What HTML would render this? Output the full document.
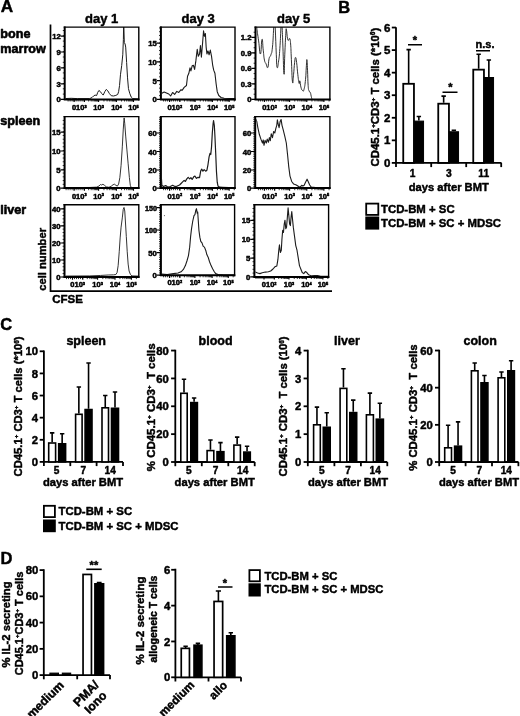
<!DOCTYPE html>
<html lang="en"><head><meta charset="utf-8"><title>Figure</title>
<style>
html,body{margin:0;padding:0;background:#fff;}
svg{display:block;font-family:'Liberation Sans', Arial, Helvetica, sans-serif;font-weight:bold;fill:#000;}
text{stroke:#000;stroke-width:0.45px;stroke-linejoin:round;}
text.s{stroke-width:0.5px;}
text.b{stroke-width:0.6px;}
</style></head>
<body>
<svg width="520" height="716" viewBox="0 0 520 716">
<rect x="0" y="0" width="520" height="716" fill="#fff"/>
<text x="0.8" y="12.3" font-size="16.5" text-anchor="start" textLength="12.4" lengthAdjust="spacingAndGlyphs">A</text>
<text x="0.3" y="37.6" font-size="12.6" text-anchor="start" class="b">bone</text>
<text x="0.3" y="52.8" font-size="12.6" text-anchor="start" class="b">marrow</text>
<text x="0.3" y="125.3" font-size="12.6" text-anchor="start" class="b">spleen</text>
<text x="0.3" y="214.0" font-size="12.6" text-anchor="start" class="b">liver</text>
<text x="101.6" y="23.1" font-size="13" text-anchor="middle">day 1</text>
<text x="198.2" y="23.1" font-size="13" text-anchor="middle">day 3</text>
<text x="293.6" y="23.1" font-size="13" text-anchor="middle">day 5</text>
<path d="M50.5 24.4 V291.1 H332" fill="none" stroke="#000" stroke-width="1.7"/>
<text transform="translate(46,290.8) rotate(-90)" font-size="11.2">cell number</text>
<text x="52.2" y="303.3" font-size="11.5" text-anchor="start">CFSE</text>
<rect x="64.7" y="27.1" width="74.10" height="72.30" fill="#fff"/>
<clipPath id="c65_27"><rect x="65.7" y="27.1" width="73.10" height="72.30"/></clipPath>
<polyline points="63.54,98.62 71.23,98.31 77.38,98.62 89.69,98.62 92.00,97.54 93.54,96.00 95.08,95.08 96.62,95.54 97.69,92.46 98.92,90.46 100.46,91.69 101.69,93.54 103.23,95.08 104.77,91.69 106.31,89.38 107.85,90.92 109.38,93.54 111.23,95.69 113.54,96.00 115.85,95.38 117.69,94.46 118.62,91.69 119.54,85.54 120.46,74.77 121.69,65.54 122.77,54.77 123.38,39.38 123.69,20.92 124.31,42.46 125.08,44.00 125.69,47.08 126.62,62.46 127.54,77.85 128.46,88.62 129.69,93.23 131.23,97.08 132.77,98.62 138.92,98.92" fill="none" stroke="#1c1c1c" stroke-width="1.0" stroke-linejoin="round" clip-path="url(#c65_27)"/>
<path d="M63.70 27.1 H138.8 V100.40" fill="none" stroke="#000" stroke-width="1.4"/>
<path d="M64.70 26.40 V99.40 H139.50" fill="none" stroke="#000" stroke-width="2" stroke-linejoin="miter"/>
<text x="60.7" y="39.1" font-size="7.7" text-anchor="end" class="s">12</text>
<text x="60.7" y="55.0" font-size="7.7" text-anchor="end" class="s">9</text>
<text x="60.7" y="70.9" font-size="7.7" text-anchor="end" class="s">6</text>
<text x="60.7" y="86.9" font-size="7.7" text-anchor="end" class="s">3</text>
<text x="60.7" y="102.4" font-size="7.7" text-anchor="end" class="s">0</text>
<path d="M60.50 36.10H64.70M60.50 52.00H64.70M60.50 67.90H64.70M60.50 83.90H64.70M60.50 99.40H64.70" stroke="#000" stroke-width="1.2" fill="none"/>
<path d="M62.80 99.40H64.70M62.80 94.10H64.70M62.80 88.80H64.70M62.80 83.50H64.70M62.80 78.20H64.70M62.80 72.90H64.70M62.80 67.60H64.70M62.80 62.30H64.70M62.80 57.00H64.70M62.80 51.70H64.70M62.80 46.40H64.70M62.80 41.10H64.70M62.80 35.80H64.70M62.80 30.50H64.70" stroke="#000" stroke-width="0.8" fill="none"/>
<text x="71.9" y="109.8" font-size="7.5" text-anchor="start" class="s">010<tspan dy="-2.2" font-size="3.9">3</tspan><tspan dy="2.2" font-size="1">&#8203;</tspan></text>
<text x="98.6" y="109.8" font-size="7.5" text-anchor="middle" class="s">10<tspan dy="-2.2" font-size="3.9">3</tspan><tspan dy="2.2" font-size="1">&#8203;</tspan></text>
<text x="116.4" y="109.8" font-size="7.5" text-anchor="middle" class="s">10<tspan dy="-2.2" font-size="3.9">4</tspan><tspan dy="2.2" font-size="1">&#8203;</tspan></text>
<text x="133.5" y="109.8" font-size="7.5" text-anchor="middle" class="s">10<tspan dy="-2.2" font-size="3.9">5</tspan><tspan dy="2.2" font-size="1">&#8203;</tspan></text>
<path d="M88.67 99.40V101.50M91.18 99.40V101.50M92.95 99.40V101.50M94.33 99.40V101.50M95.45 99.40V101.50M96.40 99.40V101.50M97.22 99.40V101.50M97.95 99.40V101.50M103.96 99.40V101.50M107.09 99.40V101.50M109.32 99.40V101.50M111.04 99.40V101.50M112.45 99.40V101.50M113.64 99.40V101.50M114.68 99.40V101.50M115.59 99.40V101.50M121.55 99.40V101.50M124.56 99.40V101.50M126.70 99.40V101.50M128.35 99.40V101.50M129.71 99.40V101.50M130.85 99.40V101.50M131.84 99.40V101.50M132.72 99.40V101.50M68.10 99.40V101.50M70.10 99.40V101.50M72.10 99.40V101.50M74.10 99.40V101.50M76.10 99.40V101.50M78.10 99.40V101.50M80.10 99.40V101.50M82.10 99.40V101.50M84.10 99.40V101.50" stroke="#000" stroke-width="0.8" fill="none"/>
<path d="M74.10 99.40V102.10M84.40 99.40V102.10M98.60 99.40V102.10M116.40 99.40V102.10M133.50 99.40V102.10" stroke="#000" stroke-width="1.1" fill="none"/>
<rect x="160.9" y="27.1" width="74.10" height="72.30" fill="#fff"/>
<clipPath id="c161_27"><rect x="161.9" y="27.1" width="73.10" height="72.30"/></clipPath>
<polyline points="160.31,93.54 161.85,93.23 164.15,92.00 166.46,92.92 168.77,94.00 170.62,96.00 172.62,92.46 174.62,94.46 176.77,91.38 178.77,92.46 180.77,89.85 182.31,90.15 184.15,87.38 186.46,85.54 187.54,76.31 188.77,73.54 190.00,67.85 190.92,70.92 192.15,65.85 193.38,65.23 194.62,69.38 195.85,60.92 197.23,49.38 198.31,56.31 199.54,54.00 200.46,45.54 201.38,57.08 202.62,42.46 203.54,30.92 204.46,36.31 205.38,33.54 206.15,47.08 206.92,54.00 208.00,50.92 209.08,54.77 210.31,50.15 211.54,56.31 212.62,64.77 213.69,70.15 214.92,73.23 216.15,84.00 217.23,91.69 218.77,95.54 221.08,97.54 224.15,98.31 234.92,98.62" fill="none" stroke="#1c1c1c" stroke-width="1.1" stroke-linejoin="round" clip-path="url(#c161_27)"/>
<path d="M159.90 27.1 H235.0 V100.40" fill="none" stroke="#000" stroke-width="1.4"/>
<path d="M160.90 26.40 V99.40 H235.70" fill="none" stroke="#000" stroke-width="2" stroke-linejoin="miter"/>
<text x="156.9" y="46.1" font-size="7.7" text-anchor="end" class="s">15</text>
<text x="156.9" y="64.9" font-size="7.7" text-anchor="end" class="s">10</text>
<text x="156.9" y="83.6" font-size="7.7" text-anchor="end" class="s">5</text>
<text x="156.9" y="102.4" font-size="7.7" text-anchor="end" class="s">0</text>
<path d="M156.70 43.10H160.90M156.70 61.90H160.90M156.70 80.60H160.90M156.70 99.40H160.90" stroke="#000" stroke-width="1.2" fill="none"/>
<path d="M159.00 99.40H160.90M159.00 95.64H160.90M159.00 91.88H160.90M159.00 88.12H160.90M159.00 84.36H160.90M159.00 80.60H160.90M159.00 76.84H160.90M159.00 73.08H160.90M159.00 69.32H160.90M159.00 65.56H160.90M159.00 61.80H160.90M159.00 58.04H160.90M159.00 54.28H160.90M159.00 50.52H160.90M159.00 46.76H160.90M159.00 43.00H160.90M159.00 39.24H160.90M159.00 35.48H160.90M159.00 31.72H160.90M159.00 27.96H160.90" stroke="#000" stroke-width="0.8" fill="none"/>
<text x="167.4" y="109.8" font-size="7.5" text-anchor="start" class="s">010<tspan dy="-2.2" font-size="3.9">2</tspan><tspan dy="2.2" font-size="1">&#8203;</tspan></text>
<text x="195.1" y="109.8" font-size="7.5" text-anchor="middle" class="s">10<tspan dy="-2.2" font-size="3.9">3</tspan><tspan dy="2.2" font-size="1">&#8203;</tspan></text>
<text x="212.4" y="109.8" font-size="7.5" text-anchor="middle" class="s">10<tspan dy="-2.2" font-size="3.9">4</tspan><tspan dy="2.2" font-size="1">&#8203;</tspan></text>
<text x="229.2" y="109.8" font-size="7.5" text-anchor="middle" class="s">10<tspan dy="-2.2" font-size="3.9">5</tspan><tspan dy="2.2" font-size="1">&#8203;</tspan></text>
<path d="M184.48 99.40V101.50M187.15 99.40V101.50M189.05 99.40V101.50M190.52 99.40V101.50M191.73 99.40V101.50M192.75 99.40V101.50M193.63 99.40V101.50M194.40 99.40V101.50M200.31 99.40V101.50M203.35 99.40V101.50M205.52 99.40V101.50M207.19 99.40V101.50M208.56 99.40V101.50M209.72 99.40V101.50M210.72 99.40V101.50M211.61 99.40V101.50M217.46 99.40V101.50M220.42 99.40V101.50M222.51 99.40V101.50M224.14 99.40V101.50M225.47 99.40V101.50M226.60 99.40V101.50M227.57 99.40V101.50M228.43 99.40V101.50M234.26 99.40V101.50M163.60 99.40V101.50M165.60 99.40V101.50M167.60 99.40V101.50M169.60 99.40V101.50M171.60 99.40V101.50M173.60 99.40V101.50M175.60 99.40V101.50M177.60 99.40V101.50M179.60 99.40V101.50" stroke="#000" stroke-width="0.8" fill="none"/>
<path d="M169.60 99.40V102.10M179.90 99.40V102.10M195.10 99.40V102.10M212.40 99.40V102.10M229.20 99.40V102.10" stroke="#000" stroke-width="1.1" fill="none"/>
<rect x="255.5" y="27.1" width="74.40" height="72.30" fill="#fff"/>
<clipPath id="c256_27"><rect x="256.5" y="27.1" width="73.40" height="72.30"/></clipPath>
<path d="M256.46 22.46C256.54 23.90 256.19 22.92 256.77 27.85C257.34 32.77 257.63 33.95 258.62 40.92C259.60 47.90 259.56 54.41 260.46 54.00C261.36 53.59 261.26 40.41 262.00 39.38C262.74 38.36 262.57 44.62 263.23 50.15C263.89 55.69 263.72 56.54 264.46 60.15C265.20 63.76 265.10 61.76 266.00 63.69C266.90 65.62 267.03 68.74 267.85 67.38C268.67 66.03 268.26 61.98 269.08 58.62C269.90 55.25 270.02 57.85 270.92 54.77C271.83 51.69 271.72 54.26 272.46 47.08C273.20 39.90 273.16 36.46 273.69 27.85C274.23 19.23 274.05 14.77 274.46 14.77C274.87 14.77 274.74 17.18 275.23 27.85C275.72 38.51 275.82 44.23 276.31 54.77C276.80 65.31 276.46 65.74 277.08 67.38C277.69 69.03 277.88 65.93 278.62 60.92C279.35 55.92 279.23 57.44 279.85 48.62C280.46 39.79 280.47 36.87 280.92 27.85C281.37 18.82 281.21 14.77 281.54 14.77C281.87 14.77 281.78 19.23 282.15 27.85C282.52 36.46 282.43 34.77 282.92 47.08C283.42 59.38 283.51 71.95 284.00 74.00C284.49 76.05 284.28 65.64 284.77 54.77C285.26 43.90 285.39 39.79 285.85 33.23C286.30 26.67 286.01 28.72 286.46 30.15C286.91 31.59 286.96 35.95 287.54 38.62C288.11 41.28 288.04 40.15 288.62 40.15C289.19 40.15 289.16 37.59 289.69 38.62C290.23 39.64 290.16 38.46 290.62 44.00C291.07 49.54 290.89 49.33 291.38 59.38C291.88 69.44 291.89 77.59 292.46 81.69C293.04 85.79 292.96 79.90 293.54 74.77C294.11 69.64 294.08 67.06 294.62 62.46C295.15 57.87 295.01 57.54 295.54 57.54C296.07 57.54 296.00 57.87 296.62 62.46C297.23 67.06 297.19 69.23 297.85 74.77C298.50 80.31 298.54 81.59 299.08 83.23C299.61 84.87 299.35 79.90 299.85 80.92C300.34 81.95 300.23 84.53 300.92 87.08C301.62 89.62 301.64 89.85 302.46 90.46C303.28 91.08 303.18 92.34 304.00 89.38C304.82 86.43 304.92 85.33 305.54 79.38C306.15 73.44 305.94 72.33 306.31 67.08C306.68 61.83 306.59 58.87 306.92 59.69C307.25 60.51 307.21 63.26 307.54 70.15C307.87 77.05 307.74 80.00 308.15 85.54C308.56 91.08 308.50 89.08 309.08 90.92C309.65 92.77 309.73 91.03 310.31 92.46C310.88 93.90 310.74 94.26 311.23 96.31C311.72 98.36 311.91 99.13 312.15 100.15" fill="none" stroke="#1c1c1c" stroke-width="0.9" stroke-linejoin="round" clip-path="url(#c256_27)"/>
<path d="M254.50 27.1 H329.9 V100.40" fill="none" stroke="#000" stroke-width="1.4"/>
<path d="M255.50 26.40 V99.40 H330.60" fill="none" stroke="#000" stroke-width="2" stroke-linejoin="miter"/>
<text x="251.5" y="40.4" font-size="7.7" text-anchor="end" class="s">1.2</text>
<text x="251.5" y="55.9" font-size="7.7" text-anchor="end" class="s">0.9</text>
<text x="251.5" y="71.4" font-size="7.7" text-anchor="end" class="s">0.6</text>
<text x="251.5" y="86.9" font-size="7.7" text-anchor="end" class="s">0.3</text>
<text x="251.5" y="102.4" font-size="7.7" text-anchor="end" class="s">0</text>
<path d="M251.30 37.40H255.50M251.30 52.90H255.50M251.30 68.40H255.50M251.30 83.90H255.50M251.30 99.40H255.50" stroke="#000" stroke-width="1.2" fill="none"/>
<path d="M253.60 99.40H255.50M253.60 94.23H255.50M253.60 89.07H255.50M253.60 83.90H255.50M253.60 78.73H255.50M253.60 73.57H255.50M253.60 68.40H255.50M253.60 63.23H255.50M253.60 58.07H255.50M253.60 52.90H255.50M253.60 47.73H255.50M253.60 42.57H255.50M253.60 37.40H255.50M253.60 32.23H255.50" stroke="#000" stroke-width="0.8" fill="none"/>
<text x="262.2" y="109.8" font-size="7.5" text-anchor="start" class="s">010<tspan dy="-2.2" font-size="3.9">2</tspan><tspan dy="2.2" font-size="1">&#8203;</tspan></text>
<text x="289.6" y="109.8" font-size="7.5" text-anchor="middle" class="s">10<tspan dy="-2.2" font-size="3.9">3</tspan><tspan dy="2.2" font-size="1">&#8203;</tspan></text>
<text x="306.8" y="109.8" font-size="7.5" text-anchor="middle" class="s">10<tspan dy="-2.2" font-size="3.9">4</tspan><tspan dy="2.2" font-size="1">&#8203;</tspan></text>
<text x="323.9" y="109.8" font-size="7.5" text-anchor="middle" class="s">10<tspan dy="-2.2" font-size="3.9">5</tspan><tspan dy="2.2" font-size="1">&#8203;</tspan></text>
<path d="M279.19 99.40V101.50M281.81 99.40V101.50M283.67 99.40V101.50M285.11 99.40V101.50M286.29 99.40V101.50M287.29 99.40V101.50M288.16 99.40V101.50M288.92 99.40V101.50M294.78 99.40V101.50M297.81 99.40V101.50M299.96 99.40V101.50M301.62 99.40V101.50M302.98 99.40V101.50M304.14 99.40V101.50M305.13 99.40V101.50M306.01 99.40V101.50M311.95 99.40V101.50M314.96 99.40V101.50M317.10 99.40V101.50M318.75 99.40V101.50M320.11 99.40V101.50M321.25 99.40V101.50M322.24 99.40V101.50M323.12 99.40V101.50M329.05 99.40V101.50M258.40 99.40V101.50M260.40 99.40V101.50M262.40 99.40V101.50M264.40 99.40V101.50M266.40 99.40V101.50M268.40 99.40V101.50M270.40 99.40V101.50M272.40 99.40V101.50M274.40 99.40V101.50" stroke="#000" stroke-width="0.8" fill="none"/>
<path d="M264.40 99.40V102.10M274.70 99.40V102.10M289.60 99.40V102.10M306.80 99.40V102.10M323.90 99.40V102.10" stroke="#000" stroke-width="1.1" fill="none"/>
<rect x="64.6" y="116.6" width="74.20" height="71.50" fill="#fff"/>
<clipPath id="c65_116"><rect x="65.6" y="116.6" width="73.20" height="71.50"/></clipPath>
<polyline points="63.54,187.62 89.69,187.46 96.62,187.15 98.92,186.08 100.46,184.54 101.69,185.00 102.92,184.23 104.46,185.31 106.31,186.85 108.92,187.31 111.23,186.23 113.08,184.69 114.62,184.23 115.85,185.31 117.38,186.08 118.62,184.08 119.85,177.62 121.08,165.31 122.31,146.85 123.23,129.92 123.85,120.69 124.15,117.92 124.77,123.77 125.69,136.08 126.92,149.92 128.15,163.77 129.38,177.62 130.31,185.31 131.23,187.62 138.92,187.92" fill="none" stroke="#1c1c1c" stroke-width="0.9" stroke-linejoin="round" clip-path="url(#c65_116)"/>
<path d="M63.60 116.6 H138.8 V189.10" fill="none" stroke="#000" stroke-width="1.4"/>
<path d="M64.60 115.90 V188.10 H139.50" fill="none" stroke="#000" stroke-width="2" stroke-linejoin="miter"/>
<text x="60.6" y="135.2" font-size="7.7" text-anchor="end" class="s">15</text>
<text x="60.6" y="154.0" font-size="7.7" text-anchor="end" class="s">10</text>
<text x="60.6" y="172.8" font-size="7.7" text-anchor="end" class="s">5</text>
<text x="60.6" y="191.1" font-size="7.7" text-anchor="end" class="s">0</text>
<path d="M60.40 132.20H64.60M60.40 151.00H64.60M60.40 169.80H64.60M60.40 188.10H64.60" stroke="#000" stroke-width="1.2" fill="none"/>
<path d="M62.70 188.10H64.60M62.70 184.34H64.60M62.70 180.58H64.60M62.70 176.82H64.60M62.70 173.06H64.60M62.70 169.30H64.60M62.70 165.54H64.60M62.70 161.78H64.60M62.70 158.02H64.60M62.70 154.26H64.60M62.70 150.50H64.60M62.70 146.74H64.60M62.70 142.98H64.60M62.70 139.22H64.60M62.70 135.46H64.60M62.70 131.70H64.60M62.70 127.94H64.60M62.70 124.18H64.60M62.70 120.42H64.60" stroke="#000" stroke-width="0.8" fill="none"/>
<text x="71.9" y="198.5" font-size="7.5" text-anchor="start" class="s">010<tspan dy="-2.2" font-size="3.9">3</tspan><tspan dy="2.2" font-size="1">&#8203;</tspan></text>
<text x="98.6" y="198.5" font-size="7.5" text-anchor="middle" class="s">10<tspan dy="-2.2" font-size="3.9">3</tspan><tspan dy="2.2" font-size="1">&#8203;</tspan></text>
<text x="116.4" y="198.5" font-size="7.5" text-anchor="middle" class="s">10<tspan dy="-2.2" font-size="3.9">4</tspan><tspan dy="2.2" font-size="1">&#8203;</tspan></text>
<text x="133.5" y="198.5" font-size="7.5" text-anchor="middle" class="s">10<tspan dy="-2.2" font-size="3.9">5</tspan><tspan dy="2.2" font-size="1">&#8203;</tspan></text>
<path d="M88.67 188.10V190.20M91.18 188.10V190.20M92.95 188.10V190.20M94.33 188.10V190.20M95.45 188.10V190.20M96.40 188.10V190.20M97.22 188.10V190.20M97.95 188.10V190.20M103.96 188.10V190.20M107.09 188.10V190.20M109.32 188.10V190.20M111.04 188.10V190.20M112.45 188.10V190.20M113.64 188.10V190.20M114.68 188.10V190.20M115.59 188.10V190.20M121.55 188.10V190.20M124.56 188.10V190.20M126.70 188.10V190.20M128.35 188.10V190.20M129.71 188.10V190.20M130.85 188.10V190.20M131.84 188.10V190.20M132.72 188.10V190.20M66.10 188.10V190.20M68.10 188.10V190.20M70.10 188.10V190.20M72.10 188.10V190.20M74.10 188.10V190.20M76.10 188.10V190.20M78.10 188.10V190.20M80.10 188.10V190.20M82.10 188.10V190.20M84.10 188.10V190.20" stroke="#000" stroke-width="0.8" fill="none"/>
<path d="M74.10 188.10V190.80M84.40 188.10V190.80M98.60 188.10V190.80M116.40 188.10V190.80M133.50 188.10V190.80" stroke="#000" stroke-width="1.1" fill="none"/>
<rect x="160.9" y="116.6" width="74.10" height="71.50" fill="#fff"/>
<clipPath id="c161_116"><rect x="161.9" y="116.6" width="73.10" height="71.50"/></clipPath>
<polyline points="161.38,177.62 161.85,185.31 163.38,186.54 165.69,185.62 168.00,187.15 170.31,186.54 172.62,185.31 174.92,186.54 177.23,186.08 179.54,185.00 181.08,183.46 182.62,181.92 184.15,180.38 185.38,181.46 186.62,179.15 188.15,177.31 189.69,178.85 190.92,177.62 192.15,179.46 193.69,176.85 194.92,176.08 196.46,178.38 198.00,177.31 199.54,177.62 200.77,170.69 201.69,169.15 202.92,171.15 204.15,169.62 205.69,171.15 206.92,170.23 208.00,164.54 209.08,156.85 210.00,153.31 210.77,154.54 211.54,146.85 212.31,133.00 213.08,123.77 213.54,120.69 214.31,125.31 214.92,136.08 215.69,153.00 216.46,171.46 217.23,182.23 218.00,186.08 219.54,187.15 222.62,187.31 234.92,187.77" fill="none" stroke="#1c1c1c" stroke-width="1.2" stroke-linejoin="round" clip-path="url(#c161_116)"/>
<path d="M159.90 116.6 H235.0 V189.10" fill="none" stroke="#000" stroke-width="1.4"/>
<path d="M160.90 115.90 V188.10 H235.70" fill="none" stroke="#000" stroke-width="2" stroke-linejoin="miter"/>
<text x="156.9" y="136.0" font-size="7.7" text-anchor="end" class="s">60</text>
<text x="156.9" y="154.5" font-size="7.7" text-anchor="end" class="s">40</text>
<text x="156.9" y="173.0" font-size="7.7" text-anchor="end" class="s">20</text>
<text x="156.9" y="191.1" font-size="7.7" text-anchor="end" class="s">0</text>
<path d="M156.70 133.00H160.90M156.70 151.50H160.90M156.70 170.00H160.90M156.70 188.10H160.90" stroke="#000" stroke-width="1.2" fill="none"/>
<path d="M159.00 188.10H160.90M159.00 186.25H160.90M159.00 184.40H160.90M159.00 182.55H160.90M159.00 180.70H160.90M159.00 178.85H160.90M159.00 177.00H160.90M159.00 175.15H160.90M159.00 173.30H160.90M159.00 171.45H160.90M159.00 169.60H160.90M159.00 167.75H160.90M159.00 165.90H160.90M159.00 164.05H160.90M159.00 162.20H160.90M159.00 160.35H160.90M159.00 158.50H160.90M159.00 156.65H160.90M159.00 154.80H160.90M159.00 152.95H160.90M159.00 151.10H160.90M159.00 149.25H160.90M159.00 147.40H160.90M159.00 145.55H160.90M159.00 143.70H160.90M159.00 141.85H160.90M159.00 140.00H160.90M159.00 138.15H160.90M159.00 136.30H160.90M159.00 134.45H160.90M159.00 132.60H160.90M159.00 130.75H160.90M159.00 128.90H160.90M159.00 127.05H160.90M159.00 125.20H160.90M159.00 123.35H160.90M159.00 121.50H160.90M159.00 119.65H160.90M159.00 117.80H160.90" stroke="#000" stroke-width="0.8" fill="none"/>
<text x="167.4" y="198.5" font-size="7.5" text-anchor="start" class="s">010<tspan dy="-2.2" font-size="3.9">2</tspan><tspan dy="2.2" font-size="1">&#8203;</tspan></text>
<text x="195.1" y="198.5" font-size="7.5" text-anchor="middle" class="s">10<tspan dy="-2.2" font-size="3.9">3</tspan><tspan dy="2.2" font-size="1">&#8203;</tspan></text>
<text x="212.4" y="198.5" font-size="7.5" text-anchor="middle" class="s">10<tspan dy="-2.2" font-size="3.9">4</tspan><tspan dy="2.2" font-size="1">&#8203;</tspan></text>
<text x="229.2" y="198.5" font-size="7.5" text-anchor="middle" class="s">10<tspan dy="-2.2" font-size="3.9">5</tspan><tspan dy="2.2" font-size="1">&#8203;</tspan></text>
<path d="M184.48 188.10V190.20M187.15 188.10V190.20M189.05 188.10V190.20M190.52 188.10V190.20M191.73 188.10V190.20M192.75 188.10V190.20M193.63 188.10V190.20M194.40 188.10V190.20M200.31 188.10V190.20M203.35 188.10V190.20M205.52 188.10V190.20M207.19 188.10V190.20M208.56 188.10V190.20M209.72 188.10V190.20M210.72 188.10V190.20M211.61 188.10V190.20M217.46 188.10V190.20M220.42 188.10V190.20M222.51 188.10V190.20M224.14 188.10V190.20M225.47 188.10V190.20M226.60 188.10V190.20M227.57 188.10V190.20M228.43 188.10V190.20M234.26 188.10V190.20M163.60 188.10V190.20M165.60 188.10V190.20M167.60 188.10V190.20M169.60 188.10V190.20M171.60 188.10V190.20M173.60 188.10V190.20M175.60 188.10V190.20M177.60 188.10V190.20M179.60 188.10V190.20" stroke="#000" stroke-width="0.8" fill="none"/>
<path d="M169.60 188.10V190.80M179.90 188.10V190.80M195.10 188.10V190.80M212.40 188.10V190.80M229.20 188.10V190.80" stroke="#000" stroke-width="1.1" fill="none"/>
<rect x="255.2" y="116.6" width="74.70" height="71.50" fill="#fff"/>
<clipPath id="c256_116"><rect x="256.2" y="116.6" width="73.70" height="71.50"/></clipPath>
<polyline points="255.85,119.15 256.77,121.46 257.85,127.62 259.38,134.54 260.92,139.15 262.46,143.00 263.23,139.92 264.00,145.31 265.08,140.38 266.31,143.00 267.23,139.15 268.46,142.23 269.38,137.62 270.31,140.69 271.23,133.77 272.46,137.62 273.69,131.46 274.77,133.00 275.85,128.38 276.77,125.31 277.38,119.92 278.31,124.54 279.08,127.62 280.15,121.46 281.08,119.46 282.00,125.31 283.23,129.92 284.77,136.08 286.31,143.00 287.54,154.54 288.77,166.85 290.00,176.08 291.69,181.46 293.69,184.08 296.31,185.00 298.62,186.54 300.15,187.15 301.69,185.31 302.92,186.08 304.15,185.31 305.54,182.23 307.08,179.15 308.15,181.46 309.69,185.00 311.23,187.15 315.54,187.62 330.92,187.92" fill="none" stroke="#1c1c1c" stroke-width="1.1" stroke-linejoin="round" clip-path="url(#c256_116)"/>
<path d="M254.20 116.6 H329.9 V189.10" fill="none" stroke="#000" stroke-width="1.4"/>
<path d="M255.20 115.90 V188.10 H330.60" fill="none" stroke="#000" stroke-width="2" stroke-linejoin="miter"/>
<text x="251.2" y="136.0" font-size="7.7" text-anchor="end" class="s">60</text>
<text x="251.2" y="154.5" font-size="7.7" text-anchor="end" class="s">40</text>
<text x="251.2" y="173.0" font-size="7.7" text-anchor="end" class="s">20</text>
<text x="251.2" y="191.1" font-size="7.7" text-anchor="end" class="s">0</text>
<path d="M251.00 133.00H255.20M251.00 151.50H255.20M251.00 170.00H255.20M251.00 188.10H255.20" stroke="#000" stroke-width="1.2" fill="none"/>
<path d="M253.30 188.10H255.20M253.30 186.25H255.20M253.30 184.40H255.20M253.30 182.55H255.20M253.30 180.70H255.20M253.30 178.85H255.20M253.30 177.00H255.20M253.30 175.15H255.20M253.30 173.30H255.20M253.30 171.45H255.20M253.30 169.60H255.20M253.30 167.75H255.20M253.30 165.90H255.20M253.30 164.05H255.20M253.30 162.20H255.20M253.30 160.35H255.20M253.30 158.50H255.20M253.30 156.65H255.20M253.30 154.80H255.20M253.30 152.95H255.20M253.30 151.10H255.20M253.30 149.25H255.20M253.30 147.40H255.20M253.30 145.55H255.20M253.30 143.70H255.20M253.30 141.85H255.20M253.30 140.00H255.20M253.30 138.15H255.20M253.30 136.30H255.20M253.30 134.45H255.20M253.30 132.60H255.20M253.30 130.75H255.20M253.30 128.90H255.20M253.30 127.05H255.20M253.30 125.20H255.20M253.30 123.35H255.20M253.30 121.50H255.20M253.30 119.65H255.20M253.30 117.80H255.20" stroke="#000" stroke-width="0.8" fill="none"/>
<text x="262.2" y="198.5" font-size="7.5" text-anchor="start" class="s">010<tspan dy="-2.2" font-size="3.9">2</tspan><tspan dy="2.2" font-size="1">&#8203;</tspan></text>
<text x="289.6" y="198.5" font-size="7.5" text-anchor="middle" class="s">10<tspan dy="-2.2" font-size="3.9">3</tspan><tspan dy="2.2" font-size="1">&#8203;</tspan></text>
<text x="306.8" y="198.5" font-size="7.5" text-anchor="middle" class="s">10<tspan dy="-2.2" font-size="3.9">4</tspan><tspan dy="2.2" font-size="1">&#8203;</tspan></text>
<text x="323.9" y="198.5" font-size="7.5" text-anchor="middle" class="s">10<tspan dy="-2.2" font-size="3.9">5</tspan><tspan dy="2.2" font-size="1">&#8203;</tspan></text>
<path d="M279.19 188.10V190.20M281.81 188.10V190.20M283.67 188.10V190.20M285.11 188.10V190.20M286.29 188.10V190.20M287.29 188.10V190.20M288.16 188.10V190.20M288.92 188.10V190.20M294.78 188.10V190.20M297.81 188.10V190.20M299.96 188.10V190.20M301.62 188.10V190.20M302.98 188.10V190.20M304.14 188.10V190.20M305.13 188.10V190.20M306.01 188.10V190.20M311.95 188.10V190.20M314.96 188.10V190.20M317.10 188.10V190.20M318.75 188.10V190.20M320.11 188.10V190.20M321.25 188.10V190.20M322.24 188.10V190.20M323.12 188.10V190.20M329.05 188.10V190.20M258.40 188.10V190.20M260.40 188.10V190.20M262.40 188.10V190.20M264.40 188.10V190.20M266.40 188.10V190.20M268.40 188.10V190.20M270.40 188.10V190.20M272.40 188.10V190.20M274.40 188.10V190.20" stroke="#000" stroke-width="0.8" fill="none"/>
<path d="M264.40 188.10V190.80M274.70 188.10V190.80M289.60 188.10V190.80M306.80 188.10V190.80M323.90 188.10V190.80" stroke="#000" stroke-width="1.1" fill="none"/>
<rect x="64.5" y="204.8" width="74.30" height="72.20" fill="#fff"/>
<clipPath id="c65_204"><rect x="65.5" y="204.8" width="73.30" height="72.20"/></clipPath>
<polyline points="63.54,276.08 89.69,275.92 100.46,275.46 108.15,275.00 113.54,274.85 115.85,274.54 117.08,272.54 118.15,265.62 119.23,251.77 120.15,237.92 121.08,227.15 122.31,217.92 123.23,209.46 124.00,207.46 124.77,211.00 125.38,221.00 126.31,236.38 127.23,251.77 128.15,264.08 129.08,271.00 130.46,274.54 132.00,275.92 138.92,276.08" fill="none" stroke="#1c1c1c" stroke-width="0.9" stroke-linejoin="round" clip-path="url(#c65_204)"/>
<path d="M63.50 204.8 H138.8 V278.00" fill="none" stroke="#000" stroke-width="1.4"/>
<path d="M64.50 204.10 V277.00 H139.50" fill="none" stroke="#000" stroke-width="2" stroke-linejoin="miter"/>
<text x="60.5" y="211.8" font-size="7.7" text-anchor="end" class="s">40</text>
<text x="60.5" y="228.9" font-size="7.7" text-anchor="end" class="s">30</text>
<text x="60.5" y="246.0" font-size="7.7" text-anchor="end" class="s">20</text>
<text x="60.5" y="263.0" font-size="7.7" text-anchor="end" class="s">10</text>
<text x="60.5" y="280.0" font-size="7.7" text-anchor="end" class="s">0</text>
<path d="M60.30 208.80H64.50M60.30 225.90H64.50M60.30 243.00H64.50M60.30 260.00H64.50M60.30 277.00H64.50" stroke="#000" stroke-width="1.2" fill="none"/>
<path d="M62.60 277.00H64.50M62.60 273.58H64.50M62.60 270.16H64.50M62.60 266.74H64.50M62.60 263.32H64.50M62.60 259.90H64.50M62.60 256.48H64.50M62.60 253.06H64.50M62.60 249.64H64.50M62.60 246.22H64.50M62.60 242.80H64.50M62.60 239.38H64.50M62.60 235.96H64.50M62.60 232.54H64.50M62.60 229.12H64.50M62.60 225.70H64.50M62.60 222.28H64.50M62.60 218.86H64.50M62.60 215.44H64.50M62.60 212.02H64.50M62.60 208.60H64.50" stroke="#000" stroke-width="0.8" fill="none"/>
<text x="70.3" y="287.4" font-size="7.5" text-anchor="start" class="s">010<tspan dy="-2.2" font-size="3.9">3</tspan><tspan dy="2.2" font-size="1">&#8203;</tspan></text>
<text x="97.6" y="287.4" font-size="7.5" text-anchor="middle" class="s">10<tspan dy="-2.2" font-size="3.9">3</tspan><tspan dy="2.2" font-size="1">&#8203;</tspan></text>
<text x="115.0" y="287.4" font-size="7.5" text-anchor="middle" class="s">10<tspan dy="-2.2" font-size="3.9">4</tspan><tspan dy="2.2" font-size="1">&#8203;</tspan></text>
<text x="131.4" y="287.4" font-size="7.5" text-anchor="middle" class="s">10<tspan dy="-2.2" font-size="3.9">5</tspan><tspan dy="2.2" font-size="1">&#8203;</tspan></text>
<path d="M87.26 277.00V279.10M89.86 277.00V279.10M91.71 277.00V279.10M93.14 277.00V279.10M94.32 277.00V279.10M95.31 277.00V279.10M96.17 277.00V279.10M96.92 277.00V279.10M102.84 277.00V279.10M105.90 277.00V279.10M108.08 277.00V279.10M109.76 277.00V279.10M111.14 277.00V279.10M112.30 277.00V279.10M113.31 277.00V279.10M114.20 277.00V279.10M119.94 277.00V279.10M122.82 277.00V279.10M124.87 277.00V279.10M126.46 277.00V279.10M127.76 277.00V279.10M128.86 277.00V279.10M129.81 277.00V279.10M130.65 277.00V279.10M136.34 277.00V279.10M66.50 277.00V279.10M68.50 277.00V279.10M70.50 277.00V279.10M72.50 277.00V279.10M74.50 277.00V279.10M76.50 277.00V279.10M78.50 277.00V279.10M80.50 277.00V279.10M82.50 277.00V279.10" stroke="#000" stroke-width="0.8" fill="none"/>
<path d="M72.50 277.00V279.70M82.80 277.00V279.70M97.60 277.00V279.70M115.00 277.00V279.70M131.40 277.00V279.70" stroke="#000" stroke-width="1.1" fill="none"/>
<rect x="160.9" y="204.8" width="73.70" height="70.40" fill="#fff"/>
<clipPath id="c161_204"><rect x="161.9" y="204.8" width="72.70" height="70.40"/></clipPath>
<polyline points="160.31,274.23 161.85,274.08 167.23,274.54 173.38,273.62 178.00,273.00 181.08,271.77 183.38,269.46 185.38,265.62 186.92,261.00 188.46,255.62 189.69,247.15 190.62,236.38 191.54,228.69 192.77,221.00 194.00,215.62 194.92,214.54 195.85,210.23 196.46,208.69 197.23,213.31 197.69,212.08 198.31,221.00 198.92,230.23 199.85,237.15 200.77,241.31 202.00,242.85 203.23,246.38 204.46,247.15 205.69,250.23 206.92,254.85 208.15,257.15 209.54,261.77 211.08,265.62 212.62,268.69 214.15,271.46 215.69,273.62 218.00,274.54 222.62,274.85 234.92,275.15" fill="none" stroke="#1c1c1c" stroke-width="1.1" stroke-linejoin="round" clip-path="url(#c161_204)"/>
<path d="M159.90 204.8 H234.6 V276.20" fill="none" stroke="#000" stroke-width="1.4"/>
<path d="M160.90 204.10 V275.20 H235.30" fill="none" stroke="#000" stroke-width="2" stroke-linejoin="miter"/>
<text x="156.9" y="210.6" font-size="7.2" text-anchor="end" class="s">150</text>
<text x="156.9" y="233.0" font-size="7.2" text-anchor="end" class="s">100</text>
<text x="156.9" y="255.6" font-size="7.7" text-anchor="end" class="s">50</text>
<text x="156.9" y="278.2" font-size="7.7" text-anchor="end" class="s">0</text>
<path d="M156.70 207.60H160.90M156.70 230.00H160.90M156.70 252.60H160.90M156.70 275.20H160.90" stroke="#000" stroke-width="1.2" fill="none"/>
<path d="M159.00 275.20H160.90M159.00 272.96H160.90M159.00 270.72H160.90M159.00 268.48H160.90M159.00 266.24H160.90M159.00 264.00H160.90M159.00 261.76H160.90M159.00 259.52H160.90M159.00 257.28H160.90M159.00 255.04H160.90M159.00 252.80H160.90M159.00 250.56H160.90M159.00 248.32H160.90M159.00 246.08H160.90M159.00 243.84H160.90M159.00 241.60H160.90M159.00 239.36H160.90M159.00 237.12H160.90M159.00 234.88H160.90M159.00 232.64H160.90M159.00 230.40H160.90M159.00 228.16H160.90M159.00 225.92H160.90M159.00 223.68H160.90M159.00 221.44H160.90M159.00 219.20H160.90M159.00 216.96H160.90M159.00 214.72H160.90M159.00 212.48H160.90M159.00 210.24H160.90M159.00 208.00H160.90M159.00 205.76H160.90" stroke="#000" stroke-width="0.8" fill="none"/>
<text x="167.4" y="285.2" font-size="7.5" text-anchor="start" class="s">010<tspan dy="-2.2" font-size="3.9">2</tspan><tspan dy="2.2" font-size="1">&#8203;</tspan></text>
<text x="194.9" y="285.2" font-size="7.5" text-anchor="middle" class="s">10<tspan dy="-2.2" font-size="3.9">3</tspan><tspan dy="2.2" font-size="1">&#8203;</tspan></text>
<text x="212.1" y="285.2" font-size="7.5" text-anchor="middle" class="s">10<tspan dy="-2.2" font-size="3.9">4</tspan><tspan dy="2.2" font-size="1">&#8203;</tspan></text>
<text x="228.3" y="285.2" font-size="7.5" text-anchor="middle" class="s">10<tspan dy="-2.2" font-size="3.9">5</tspan><tspan dy="2.2" font-size="1">&#8203;</tspan></text>
<path d="M184.42 275.20V277.30M187.06 275.20V277.30M188.93 275.20V277.30M190.38 275.20V277.30M191.57 275.20V277.30M192.58 275.20V277.30M193.45 275.20V277.30M194.21 275.20V277.30M200.08 275.20V277.30M203.11 275.20V277.30M205.26 275.20V277.30M206.92 275.20V277.30M208.28 275.20V277.30M209.44 275.20V277.30M210.43 275.20V277.30M211.31 275.20V277.30M216.98 275.20V277.30M219.83 275.20V277.30M221.85 275.20V277.30M223.42 275.20V277.30M224.71 275.20V277.30M225.79 275.20V277.30M226.73 275.20V277.30M227.56 275.20V277.30M233.18 275.20V277.30M163.60 275.20V277.30M165.60 275.20V277.30M167.60 275.20V277.30M169.60 275.20V277.30M171.60 275.20V277.30M173.60 275.20V277.30M175.60 275.20V277.30M177.60 275.20V277.30M179.60 275.20V277.30" stroke="#000" stroke-width="0.8" fill="none"/>
<path d="M169.60 275.20V277.90M179.90 275.20V277.90M194.90 275.20V277.90M212.10 275.20V277.90M228.30 275.20V277.90" stroke="#000" stroke-width="1.1" fill="none"/>
<rect x="254.4" y="204.8" width="74.20" height="72.10" fill="#fff"/>
<clipPath id="c255_204"><rect x="255.4" y="204.8" width="73.20" height="72.10"/></clipPath>
<polyline points="254.23,271.77 255.31,272.08 257.62,273.00 259.92,273.62 262.23,272.69 265.31,272.08 268.38,271.77 270.69,271.00 273.00,269.00 274.85,266.85 276.85,265.92 277.92,259.46 278.85,249.46 279.46,244.85 280.38,252.54 281.31,250.23 281.92,239.46 282.69,230.23 283.46,232.54 284.23,224.08 285.00,220.23 285.77,228.69 286.54,227.15 287.31,217.92 288.08,207.92 288.85,215.62 289.62,224.08 290.38,225.62 291.15,216.38 291.77,211.46 292.38,217.92 293.31,227.15 294.54,236.38 295.77,245.62 297.00,250.23 298.23,257.92 299.46,265.62 301.00,269.46 302.23,272.54 303.77,273.62 305.31,271.46 306.85,272.54 308.69,274.85 311.46,275.92 314.54,275.62 317.62,275.46 320.69,276.23 329.92,276.23" fill="none" stroke="#1c1c1c" stroke-width="1.1" stroke-linejoin="round" clip-path="url(#c255_204)"/>
<path d="M253.40 204.8 H328.6 V277.90" fill="none" stroke="#000" stroke-width="1.4"/>
<path d="M254.40 204.10 V276.90 H329.30" fill="none" stroke="#000" stroke-width="2" stroke-linejoin="miter"/>
<text x="250.4" y="223.4" font-size="7.7" text-anchor="end" class="s">15</text>
<text x="250.4" y="242.4" font-size="7.7" text-anchor="end" class="s">10</text>
<text x="250.4" y="261.2" font-size="7.7" text-anchor="end" class="s">5</text>
<text x="250.4" y="279.9" font-size="7.7" text-anchor="end" class="s">0</text>
<path d="M250.20 220.40H254.40M250.20 239.40H254.40M250.20 258.20H254.40M250.20 276.90H254.40" stroke="#000" stroke-width="1.2" fill="none"/>
<path d="M252.50 276.90H254.40M252.50 273.10H254.40M252.50 269.30H254.40M252.50 265.50H254.40M252.50 261.70H254.40M252.50 257.90H254.40M252.50 254.10H254.40M252.50 250.30H254.40M252.50 246.50H254.40M252.50 242.70H254.40M252.50 238.90H254.40M252.50 235.10H254.40M252.50 231.30H254.40M252.50 227.50H254.40M252.50 223.70H254.40M252.50 219.90H254.40M252.50 216.10H254.40M252.50 212.30H254.40M252.50 208.50H254.40" stroke="#000" stroke-width="0.8" fill="none"/>
<text x="261.8" y="287.3" font-size="7.5" text-anchor="start" class="s">010<tspan dy="-2.2" font-size="3.9">2</tspan><tspan dy="2.2" font-size="1">&#8203;</tspan></text>
<text x="289.0" y="287.3" font-size="7.5" text-anchor="middle" class="s">10<tspan dy="-2.2" font-size="3.9">3</tspan><tspan dy="2.2" font-size="1">&#8203;</tspan></text>
<text x="306.4" y="287.3" font-size="7.5" text-anchor="middle" class="s">10<tspan dy="-2.2" font-size="3.9">4</tspan><tspan dy="2.2" font-size="1">&#8203;</tspan></text>
<text x="322.9" y="287.3" font-size="7.5" text-anchor="middle" class="s">10<tspan dy="-2.2" font-size="3.9">5</tspan><tspan dy="2.2" font-size="1">&#8203;</tspan></text>
<path d="M278.73 276.90V279.00M281.31 276.90V279.00M283.15 276.90V279.00M284.57 276.90V279.00M285.74 276.90V279.00M286.72 276.90V279.00M287.58 276.90V279.00M288.33 276.90V279.00M294.24 276.90V279.00M297.30 276.90V279.00M299.48 276.90V279.00M301.16 276.90V279.00M302.54 276.90V279.00M303.70 276.90V279.00M304.71 276.90V279.00M305.60 276.90V279.00M311.37 276.90V279.00M314.27 276.90V279.00M316.33 276.90V279.00M317.93 276.90V279.00M319.24 276.90V279.00M320.34 276.90V279.00M321.30 276.90V279.00M322.15 276.90V279.00M327.87 276.90V279.00M256.00 276.90V279.00M258.00 276.90V279.00M260.00 276.90V279.00M262.00 276.90V279.00M264.00 276.90V279.00M266.00 276.90V279.00M268.00 276.90V279.00M270.00 276.90V279.00M272.00 276.90V279.00M274.00 276.90V279.00" stroke="#000" stroke-width="0.8" fill="none"/>
<path d="M264.00 276.90V279.60M274.30 276.90V279.60M289.00 276.90V279.60M306.40 276.90V279.60M322.90 276.90V279.60" stroke="#000" stroke-width="1.1" fill="none"/>
<circle cx="164.4" cy="215.6" r="0.55" fill="#555"/>
<text x="338.2" y="12.6" font-size="16.5" text-anchor="start">B</text>
<path d="M396.0 27.3 V162.9 H501.5" fill="none" stroke="#000" stroke-width="1.8"/>
<line x1="391.8" y1="162.9" x2="396.0" y2="162.9" stroke="#000" stroke-width="1.8"/>
<text x="390.5" y="167.0" font-size="11.5" text-anchor="end">0</text>
<line x1="391.8" y1="140.34" x2="396.0" y2="140.34" stroke="#000" stroke-width="1.8"/>
<text x="390.5" y="144.44" font-size="11.5" text-anchor="end">1</text>
<line x1="391.8" y1="117.78" x2="396.0" y2="117.78" stroke="#000" stroke-width="1.8"/>
<text x="390.5" y="121.88" font-size="11.5" text-anchor="end">2</text>
<line x1="391.8" y1="95.22000000000001" x2="396.0" y2="95.22000000000001" stroke="#000" stroke-width="1.8"/>
<text x="390.5" y="99.32000000000001" font-size="11.5" text-anchor="end">3</text>
<line x1="391.8" y1="72.66000000000001" x2="396.0" y2="72.66000000000001" stroke="#000" stroke-width="1.8"/>
<text x="390.5" y="76.76" font-size="11.5" text-anchor="end">4</text>
<line x1="391.8" y1="50.10000000000001" x2="396.0" y2="50.10000000000001" stroke="#000" stroke-width="1.8"/>
<text x="390.5" y="54.20000000000001" font-size="11.5" text-anchor="end">5</text>
<line x1="391.8" y1="27.54000000000002" x2="396.0" y2="27.54000000000002" stroke="#000" stroke-width="1.8"/>
<text x="390.5" y="31.640000000000022" font-size="11.5" text-anchor="end">6</text>
<line x1="396.0" y1="162.9" x2="396.0" y2="167.1" stroke="#000" stroke-width="1.8"/>
<line x1="431.2" y1="162.9" x2="431.2" y2="167.1" stroke="#000" stroke-width="1.8"/>
<line x1="466.2" y1="162.9" x2="466.2" y2="167.1" stroke="#000" stroke-width="1.8"/>
<line x1="501.2" y1="162.9" x2="501.2" y2="167.1" stroke="#000" stroke-width="1.8"/>
<text transform="translate(378.8,166.4) rotate(-90)" font-size="11.2" textLength="138.6" lengthAdjust="spacingAndGlyphs">CD45.1<tspan dy="-4" font-size="6.2">+</tspan><tspan dy="4">CD3</tspan><tspan dy="-4" font-size="6.2">+</tspan><tspan dy="4"> T cells (*10</tspan><tspan dy="-3.8" font-size="6.4">6</tspan><tspan dy="3.8">)</tspan></text>
<path d="M408.65 82.90 V49.60 M406.45 49.60 H410.85" fill="none" stroke="#000" stroke-width="1.6"/>
<path d="M418.85 120.60 V116.50 M416.65 116.50 H421.05" fill="none" stroke="#000" stroke-width="1.6"/>
<rect x="403.25" y="83.80" width="10.70" height="79.10" fill="#fff" stroke="#000" stroke-width="1.8"/>
<rect x="414.25" y="121.10" width="9.30" height="41.80" fill="#000" stroke="#000" stroke-width="1.0"/>
<path d="M443.65 102.80 V96.10 M441.45 96.10 H445.85" fill="none" stroke="#000" stroke-width="1.6"/>
<path d="M453.85 131.25 V130.20 M451.65 130.20 H456.05" fill="none" stroke="#000" stroke-width="1.6"/>
<rect x="438.25" y="103.70" width="10.70" height="59.20" fill="#fff" stroke="#000" stroke-width="1.8"/>
<rect x="449.25" y="131.75" width="9.30" height="31.15" fill="#000" stroke="#000" stroke-width="1.0"/>
<path d="M478.65 68.75 V54.30 M476.45 54.30 H480.85" fill="none" stroke="#000" stroke-width="1.6"/>
<path d="M488.85 77.00 V60.00 M486.65 60.00 H491.05" fill="none" stroke="#000" stroke-width="1.6"/>
<rect x="473.25" y="69.65" width="10.70" height="93.25" fill="#fff" stroke="#000" stroke-width="1.8"/>
<rect x="484.25" y="77.50" width="9.30" height="85.40" fill="#000" stroke="#000" stroke-width="1.0"/>
<text x="412.5" y="177.0" font-size="10.2" text-anchor="middle">1</text>
<text x="448.75" y="177.0" font-size="10.2" text-anchor="middle">3</text>
<text x="483.75" y="177.0" font-size="10.2" text-anchor="middle">11</text>
<text x="448.75" y="190.5" font-size="11.2" text-anchor="middle">days after BMT</text>
<path d="M408 44.8 H422 M442.5 92.3 H457.5 M476 50.8 H490" stroke="#000" stroke-width="1.5"/>
<text x="415" y="44.0" font-size="11" text-anchor="middle">*</text>
<text x="450.3" y="91.3" font-size="11" text-anchor="middle">*</text>
<text x="485" y="47.5" font-size="11" text-anchor="middle">n.s.</text>
<rect x="366.20" y="203.60" width="12.10" height="11.30" fill="#fff" stroke="#000" stroke-width="1.8"/>
<rect x="366.20" y="217.40" width="12.10" height="11.30" fill="#000" stroke="#000" stroke-width="1.8"/>
<text x="381" y="212.5" font-size="11.4" text-anchor="start" textLength="73.6" lengthAdjust="spacingAndGlyphs">TCD-BM + SC</text>
<text x="381" y="226.7" font-size="11.4" text-anchor="start" textLength="120.0" lengthAdjust="spacingAndGlyphs">TCD-BM + SC + MDSC</text>
<text x="0.2" y="330.2" font-size="16.5" text-anchor="start">C</text>
<path d="M43.9 350.5 V461.9 H123" fill="none" stroke="#000" stroke-width="1.8"/>
<line x1="39.699999999999996" y1="461.9" x2="43.9" y2="461.9" stroke="#000" stroke-width="1.8"/>
<text x="38.1" y="466.0" font-size="11.3" text-anchor="end">0</text>
<line x1="39.699999999999996" y1="439.78" x2="43.9" y2="439.78" stroke="#000" stroke-width="1.8"/>
<text x="38.1" y="443.88" font-size="11.3" text-anchor="end">2</text>
<line x1="39.699999999999996" y1="417.65999999999997" x2="43.9" y2="417.65999999999997" stroke="#000" stroke-width="1.8"/>
<text x="38.1" y="421.76" font-size="11.3" text-anchor="end">4</text>
<line x1="39.699999999999996" y1="395.53999999999996" x2="43.9" y2="395.53999999999996" stroke="#000" stroke-width="1.8"/>
<text x="38.1" y="399.64" font-size="11.3" text-anchor="end">6</text>
<line x1="39.699999999999996" y1="373.41999999999996" x2="43.9" y2="373.41999999999996" stroke="#000" stroke-width="1.8"/>
<text x="38.1" y="377.52" font-size="11.3" text-anchor="end">8</text>
<line x1="39.699999999999996" y1="351.29999999999995" x2="43.9" y2="351.29999999999995" stroke="#000" stroke-width="1.8"/>
<text x="38.1" y="355.4" font-size="11.3" text-anchor="end">10</text>
<line x1="43.9" y1="461.9" x2="43.9" y2="466.09999999999997" stroke="#000" stroke-width="1.8"/>
<line x1="70.3" y1="461.9" x2="70.3" y2="466.09999999999997" stroke="#000" stroke-width="1.8"/>
<line x1="96.6" y1="461.9" x2="96.6" y2="466.09999999999997" stroke="#000" stroke-width="1.8"/>
<line x1="123" y1="461.9" x2="123" y2="466.09999999999997" stroke="#000" stroke-width="1.8"/>
<text x="86.2" y="345.4" font-size="12.5" text-anchor="middle">spleen</text>
<text transform="translate(22.4,476.4) rotate(-90)" font-size="11.2" textLength="140" lengthAdjust="spacingAndGlyphs">CD45.1<tspan dy="-4" font-size="6.2">+</tspan><tspan dy="4"> CD3</tspan><tspan dy="-4" font-size="6.2">+</tspan><tspan dy="4"> T cells (*10</tspan><tspan dy="-3.8" font-size="6.4">6</tspan><tspan dy="3.8">)</tspan></text>
<path d="M52.15 442.20 V432.90 M49.95 432.90 H54.35" fill="none" stroke="#000" stroke-width="1.6"/>
<path d="M62.15 443.00 V433.70 M59.95 433.70 H64.35" fill="none" stroke="#000" stroke-width="1.6"/>
<rect x="48.70" y="443.00" width="6.90" height="18.90" fill="#fff" stroke="#000" stroke-width="1.6"/>
<rect x="58.70" y="443.80" width="6.90" height="18.10" fill="#000" stroke="#000" stroke-width="1.6"/>
<path d="M78.85 413.50 V387.00 M76.65 387.00 H81.05" fill="none" stroke="#000" stroke-width="1.6"/>
<path d="M88.55 408.75 V363.00 M86.35 363.00 H90.75" fill="none" stroke="#000" stroke-width="1.6"/>
<rect x="75.60" y="414.30" width="6.50" height="47.60" fill="#fff" stroke="#000" stroke-width="1.6"/>
<rect x="85.10" y="409.55" width="6.90" height="52.35" fill="#000" stroke="#000" stroke-width="1.6"/>
<path d="M105.25 407.00 V395.50 M103.05 395.50 H107.45" fill="none" stroke="#000" stroke-width="1.6"/>
<path d="M115.00 407.50 V392.00 M112.80 392.00 H117.20" fill="none" stroke="#000" stroke-width="1.6"/>
<rect x="102.00" y="407.80" width="6.50" height="54.10" fill="#fff" stroke="#000" stroke-width="1.6"/>
<rect x="111.50" y="408.30" width="7.00" height="53.60" fill="#000" stroke="#000" stroke-width="1.6"/>
<text x="56.6" y="474.2" font-size="10.1" text-anchor="middle">5</text>
<text x="83.3" y="474.2" font-size="10.1" text-anchor="middle">7</text>
<text x="110.2" y="474.2" font-size="10.1" text-anchor="middle">14</text>
<text x="83" y="486.4" font-size="11.2" text-anchor="middle">days after BMT</text>
<path d="M175.3 349.8 V462.0 H254.7" fill="none" stroke="#000" stroke-width="1.8"/>
<line x1="171.10000000000002" y1="462.0" x2="175.3" y2="462.0" stroke="#000" stroke-width="1.8"/>
<text x="168.9" y="466.1" font-size="11.3" text-anchor="end">0</text>
<line x1="171.10000000000002" y1="434.14" x2="175.3" y2="434.14" stroke="#000" stroke-width="1.8"/>
<text x="168.9" y="438.24" font-size="11.3" text-anchor="end">20</text>
<line x1="171.10000000000002" y1="406.28" x2="175.3" y2="406.28" stroke="#000" stroke-width="1.8"/>
<text x="168.9" y="410.38" font-size="11.3" text-anchor="end">40</text>
<line x1="171.10000000000002" y1="378.42" x2="175.3" y2="378.42" stroke="#000" stroke-width="1.8"/>
<text x="168.9" y="382.52000000000004" font-size="11.3" text-anchor="end">60</text>
<line x1="171.10000000000002" y1="350.56" x2="175.3" y2="350.56" stroke="#000" stroke-width="1.8"/>
<text x="168.9" y="354.66" font-size="11.3" text-anchor="end">80</text>
<line x1="175.3" y1="462.0" x2="175.3" y2="466.2" stroke="#000" stroke-width="1.8"/>
<line x1="201.8" y1="462.0" x2="201.8" y2="466.2" stroke="#000" stroke-width="1.8"/>
<line x1="228.3" y1="462.0" x2="228.3" y2="466.2" stroke="#000" stroke-width="1.8"/>
<line x1="254.7" y1="462.0" x2="254.7" y2="466.2" stroke="#000" stroke-width="1.8"/>
<text x="215.6" y="345.4" font-size="12.5" text-anchor="middle">blood</text>
<text transform="translate(155.3,471.2) rotate(-90)" font-size="11.2" textLength="127.8" lengthAdjust="spacingAndGlyphs">% CD45.1<tspan dy="-4" font-size="6.2">+</tspan><tspan dy="4"> CD3</tspan><tspan dy="-4" font-size="6.2">+</tspan><tspan dy="4"> &#160;T cells</tspan></text>
<path d="M184.00 392.50 V379.25 M181.80 379.25 H186.20" fill="none" stroke="#000" stroke-width="1.6"/>
<path d="M194.10 401.80 V398.00 M191.90 398.00 H196.30" fill="none" stroke="#000" stroke-width="1.6"/>
<rect x="180.80" y="393.30" width="6.40" height="68.70" fill="#fff" stroke="#000" stroke-width="1.6"/>
<rect x="190.80" y="402.60" width="6.60" height="59.40" fill="#000" stroke="#000" stroke-width="1.6"/>
<path d="M210.45 449.80 V440.00 M208.25 440.00 H212.65" fill="none" stroke="#000" stroke-width="1.6"/>
<path d="M220.45 450.90 V442.60 M218.25 442.60 H222.65" fill="none" stroke="#000" stroke-width="1.6"/>
<rect x="207.10" y="450.60" width="6.70" height="11.40" fill="#fff" stroke="#000" stroke-width="1.6"/>
<rect x="217.00" y="451.70" width="6.90" height="10.30" fill="#000" stroke="#000" stroke-width="1.6"/>
<path d="M237.15 444.30 V437.10 M234.95 437.10 H239.35" fill="none" stroke="#000" stroke-width="1.6"/>
<path d="M247.05 451.30 V446.20 M244.85 446.20 H249.25" fill="none" stroke="#000" stroke-width="1.6"/>
<rect x="233.90" y="445.10" width="6.50" height="16.90" fill="#fff" stroke="#000" stroke-width="1.6"/>
<rect x="243.80" y="452.10" width="6.50" height="9.90" fill="#000" stroke="#000" stroke-width="1.6"/>
<text x="188.7" y="474.2" font-size="10.1" text-anchor="middle">5</text>
<text x="215.6" y="474.2" font-size="10.1" text-anchor="middle">7</text>
<text x="242.7" y="474.2" font-size="10.1" text-anchor="middle">14</text>
<text x="214.7" y="486.4" font-size="11.2" text-anchor="middle">days after BMT</text>
<path d="M307.8 349.8 V462.0 H387.3" fill="none" stroke="#000" stroke-width="1.8"/>
<line x1="303.6" y1="462.0" x2="307.8" y2="462.0" stroke="#000" stroke-width="1.8"/>
<text x="301.40000000000003" y="466.1" font-size="11.3" text-anchor="end">0</text>
<line x1="303.6" y1="434.15" x2="307.8" y2="434.15" stroke="#000" stroke-width="1.8"/>
<text x="301.40000000000003" y="438.25" font-size="11.3" text-anchor="end">1</text>
<line x1="303.6" y1="406.3" x2="307.8" y2="406.3" stroke="#000" stroke-width="1.8"/>
<text x="301.40000000000003" y="410.40000000000003" font-size="11.3" text-anchor="end">2</text>
<line x1="303.6" y1="378.45" x2="307.8" y2="378.45" stroke="#000" stroke-width="1.8"/>
<text x="301.40000000000003" y="382.55" font-size="11.3" text-anchor="end">3</text>
<line x1="303.6" y1="350.6" x2="307.8" y2="350.6" stroke="#000" stroke-width="1.8"/>
<text x="301.40000000000003" y="354.70000000000005" font-size="11.3" text-anchor="end">4</text>
<line x1="307.8" y1="462.0" x2="307.8" y2="466.2" stroke="#000" stroke-width="1.8"/>
<line x1="334.4" y1="462.0" x2="334.4" y2="466.2" stroke="#000" stroke-width="1.8"/>
<line x1="360.9" y1="462.0" x2="360.9" y2="466.2" stroke="#000" stroke-width="1.8"/>
<line x1="387.3" y1="462.0" x2="387.3" y2="466.2" stroke="#000" stroke-width="1.8"/>
<text x="346.9" y="345.4" font-size="12.5" text-anchor="middle">liver</text>
<text transform="translate(287.4,476.4) rotate(-90)" font-size="11.2" textLength="140" lengthAdjust="spacingAndGlyphs">CD45.1<tspan dy="-4" font-size="6.2">+</tspan><tspan dy="4"> CD3</tspan><tspan dy="-4" font-size="6.2">+</tspan><tspan dy="4"> &#160;T cells (10</tspan><tspan dy="-3.8" font-size="6.4">6</tspan><tspan dy="3.8">)</tspan></text>
<path d="M316.95 424.00 V407.10 M314.75 407.10 H319.15" fill="none" stroke="#000" stroke-width="1.6"/>
<path d="M326.75 426.50 V412.80 M324.55 412.80 H328.95" fill="none" stroke="#000" stroke-width="1.6"/>
<rect x="313.60" y="424.80" width="6.70" height="37.20" fill="#fff" stroke="#000" stroke-width="1.6"/>
<rect x="323.30" y="427.30" width="6.90" height="34.70" fill="#000" stroke="#000" stroke-width="1.6"/>
<path d="M343.45 387.60 V368.75 M341.25 368.75 H345.65" fill="none" stroke="#000" stroke-width="1.6"/>
<path d="M353.25 411.80 V400.10 M351.05 400.10 H355.45" fill="none" stroke="#000" stroke-width="1.6"/>
<rect x="340.10" y="388.40" width="6.70" height="73.60" fill="#fff" stroke="#000" stroke-width="1.6"/>
<rect x="349.80" y="412.60" width="6.90" height="49.40" fill="#000" stroke="#000" stroke-width="1.6"/>
<path d="M369.90 414.00 V393.10 M367.70 393.10 H372.10" fill="none" stroke="#000" stroke-width="1.6"/>
<path d="M379.85 418.40 V403.30 M377.65 403.30 H382.05" fill="none" stroke="#000" stroke-width="1.6"/>
<rect x="366.40" y="414.80" width="7.00" height="47.20" fill="#fff" stroke="#000" stroke-width="1.6"/>
<rect x="376.30" y="419.20" width="7.10" height="42.80" fill="#000" stroke="#000" stroke-width="1.6"/>
<text x="321.9" y="474.2" font-size="10.1" text-anchor="middle">5</text>
<text x="348.1" y="474.2" font-size="10.1" text-anchor="middle">7</text>
<text x="375.2" y="474.2" font-size="10.1" text-anchor="middle">14</text>
<text x="348" y="486.4" font-size="11.2" text-anchor="middle">days after BMT</text>
<path d="M439.2 349.8 V462.0 H518.5" fill="none" stroke="#000" stroke-width="1.8"/>
<line x1="435.0" y1="462.0" x2="439.2" y2="462.0" stroke="#000" stroke-width="1.8"/>
<text x="432.8" y="466.1" font-size="11.3" text-anchor="end">0</text>
<line x1="435.0" y1="424.84" x2="439.2" y2="424.84" stroke="#000" stroke-width="1.8"/>
<text x="432.8" y="428.94" font-size="11.3" text-anchor="end">20</text>
<line x1="435.0" y1="387.68" x2="439.2" y2="387.68" stroke="#000" stroke-width="1.8"/>
<text x="432.8" y="391.78000000000003" font-size="11.3" text-anchor="end">40</text>
<line x1="435.0" y1="350.52" x2="439.2" y2="350.52" stroke="#000" stroke-width="1.8"/>
<text x="432.8" y="354.62" font-size="11.3" text-anchor="end">60</text>
<line x1="439.2" y1="462.0" x2="439.2" y2="466.2" stroke="#000" stroke-width="1.8"/>
<line x1="465.6" y1="462.0" x2="465.6" y2="466.2" stroke="#000" stroke-width="1.8"/>
<line x1="492.0" y1="462.0" x2="492.0" y2="466.2" stroke="#000" stroke-width="1.8"/>
<line x1="518.4" y1="462.0" x2="518.4" y2="466.2" stroke="#000" stroke-width="1.8"/>
<text x="480.2" y="345.4" font-size="12.5" text-anchor="middle">colon</text>
<text transform="translate(417.4,470.8) rotate(-90)" font-size="11.2" textLength="126.4" lengthAdjust="spacingAndGlyphs">% CD45.1<tspan dy="-4" font-size="6.2">+</tspan><tspan dy="4"> CD3</tspan><tspan dy="-4" font-size="6.2">+</tspan><tspan dy="4"> &#160;T cells</tspan></text>
<path d="M448.10 447.00 V425.30 M445.90 425.30 H450.30" fill="none" stroke="#000" stroke-width="1.6"/>
<path d="M458.05 445.40 V421.90 M455.85 421.90 H460.25" fill="none" stroke="#000" stroke-width="1.6"/>
<rect x="444.70" y="447.80" width="6.80" height="14.20" fill="#fff" stroke="#000" stroke-width="1.6"/>
<rect x="454.60" y="446.20" width="6.90" height="15.80" fill="#000" stroke="#000" stroke-width="1.6"/>
<path d="M474.70 370.00 V363.00 M472.50 363.00 H476.90" fill="none" stroke="#000" stroke-width="1.6"/>
<path d="M484.45 382.00 V375.50 M482.25 375.50 H486.65" fill="none" stroke="#000" stroke-width="1.6"/>
<rect x="471.40" y="370.80" width="6.60" height="91.20" fill="#fff" stroke="#000" stroke-width="1.6"/>
<rect x="481.00" y="382.80" width="6.90" height="79.20" fill="#000" stroke="#000" stroke-width="1.6"/>
<path d="M501.45 377.00 V372.00 M499.25 372.00 H503.65" fill="none" stroke="#000" stroke-width="1.6"/>
<path d="M511.10 370.00 V360.75 M508.90 360.75 H513.30" fill="none" stroke="#000" stroke-width="1.6"/>
<rect x="498.10" y="377.80" width="6.70" height="84.20" fill="#fff" stroke="#000" stroke-width="1.6"/>
<rect x="507.80" y="370.80" width="6.60" height="91.20" fill="#000" stroke="#000" stroke-width="1.6"/>
<text x="453.0" y="474.2" font-size="10.1" text-anchor="middle">5</text>
<text x="479.4" y="474.2" font-size="10.1" text-anchor="middle">7</text>
<text x="506.3" y="474.2" font-size="10.1" text-anchor="middle">14</text>
<text x="479" y="486.4" font-size="11.2" text-anchor="middle">days after BMT</text>
<rect x="43.90" y="505.80" width="11.00" height="11.30" fill="#fff" stroke="#000" stroke-width="1.8"/>
<rect x="43.90" y="520.40" width="11.00" height="10.90" fill="#000" stroke="#000" stroke-width="1.8"/>
<text x="58.5" y="515.2" font-size="11.4" text-anchor="start" textLength="73.6" lengthAdjust="spacingAndGlyphs">TCD-BM + SC</text>
<text x="58.5" y="530.0" font-size="11.4" text-anchor="start" textLength="120.0" lengthAdjust="spacingAndGlyphs">TCD-BM + SC + MDSC</text>
<text x="0.4" y="563.6" font-size="16.5" text-anchor="start">D</text>
<path d="M43.8 569.3 V675.1 H110" fill="none" stroke="#000" stroke-width="1.8"/>
<line x1="39.599999999999994" y1="675.1" x2="43.8" y2="675.1" stroke="#000" stroke-width="1.8"/>
<text x="38.4" y="679.2" font-size="11.3" text-anchor="end">0</text>
<line x1="39.599999999999994" y1="648.85" x2="43.8" y2="648.85" stroke="#000" stroke-width="1.8"/>
<text x="38.4" y="652.95" font-size="11.3" text-anchor="end">20</text>
<line x1="39.599999999999994" y1="622.6" x2="43.8" y2="622.6" stroke="#000" stroke-width="1.8"/>
<text x="38.4" y="626.7" font-size="11.3" text-anchor="end">40</text>
<line x1="39.599999999999994" y1="596.35" x2="43.8" y2="596.35" stroke="#000" stroke-width="1.8"/>
<text x="38.4" y="600.45" font-size="11.3" text-anchor="end">60</text>
<line x1="39.599999999999994" y1="570.1" x2="43.8" y2="570.1" stroke="#000" stroke-width="1.8"/>
<text x="38.4" y="574.2" font-size="11.3" text-anchor="end">80</text>
<line x1="43.8" y1="675.1" x2="43.8" y2="679.3000000000001" stroke="#000" stroke-width="1.8"/>
<line x1="77.2" y1="675.1" x2="77.2" y2="679.3000000000001" stroke="#000" stroke-width="1.8"/>
<line x1="110" y1="675.1" x2="110" y2="679.3000000000001" stroke="#000" stroke-width="1.8"/>
<rect x="49.90" y="673.10" width="8.60" height="2.00" fill="#000" stroke="#000" stroke-width="1.0"/>
<rect x="62.30" y="673.10" width="8.40" height="2.00" fill="#000" stroke="#000" stroke-width="1.0"/>
<path d="M99.20 584.00 V582.60 M96.80 582.60 H101.60" fill="none" stroke="#000" stroke-width="1.6"/>
<rect x="83.05" y="574.45" width="8.40" height="100.65" fill="#fff" stroke="#000" stroke-width="1.7"/>
<rect x="94.90" y="583.80" width="8.70" height="91.30" fill="#000" stroke="#000" stroke-width="1.6"/>
<path d="M86.3 569.3 H101.7" stroke="#000" stroke-width="1.6"/>
<text x="93.9" y="569.0" font-size="11" text-anchor="middle">**</text>
<text transform="translate(9.9,667.5) rotate(-90)" font-size="11.2" textLength="86" lengthAdjust="spacingAndGlyphs">% IL-2 secreting</text>
<text transform="translate(22.5,675.3) rotate(-90)" font-size="11.2" textLength="103.6" lengthAdjust="spacingAndGlyphs">CD45.1<tspan dy="-4" font-size="6.2">+</tspan><tspan dy="4">CD3</tspan><tspan dy="-4" font-size="6.2">+</tspan><tspan dy="4"> T cells</tspan></text>
<text transform="translate(64.7,686) rotate(-45)" font-size="12.2" text-anchor="end">medium</text>
<text transform="translate(99.7,685.6) rotate(-45)" font-size="12.2" text-anchor="end">PMA/</text>
<text transform="translate(107.6,696.2) rotate(-45)" font-size="12.2" text-anchor="end">Iono</text>
<path d="M175.4 568.6999999999999 V677.3 H241.0" fill="none" stroke="#000" stroke-width="1.8"/>
<line x1="171.20000000000002" y1="677.3" x2="175.4" y2="677.3" stroke="#000" stroke-width="1.8"/>
<text x="170.20000000000002" y="681.4" font-size="11.3" text-anchor="end">0</text>
<line x1="171.20000000000002" y1="641.4599999999999" x2="175.4" y2="641.4599999999999" stroke="#000" stroke-width="1.8"/>
<text x="170.20000000000002" y="645.56" font-size="11.3" text-anchor="end">2</text>
<line x1="171.20000000000002" y1="605.6199999999999" x2="175.4" y2="605.6199999999999" stroke="#000" stroke-width="1.8"/>
<text x="170.20000000000002" y="609.7199999999999" font-size="11.3" text-anchor="end">4</text>
<line x1="171.20000000000002" y1="569.78" x2="175.4" y2="569.78" stroke="#000" stroke-width="1.8"/>
<text x="170.20000000000002" y="573.88" font-size="11.3" text-anchor="end">6</text>
<line x1="175.4" y1="677.3" x2="175.4" y2="681.5" stroke="#000" stroke-width="1.8"/>
<line x1="208.5" y1="677.3" x2="208.5" y2="681.5" stroke="#000" stroke-width="1.8"/>
<line x1="241.0" y1="677.3" x2="241.0" y2="681.5" stroke="#000" stroke-width="1.8"/>
<path d="M185.60 648.00 V646.20 M183.40 646.20 H187.80" fill="none" stroke="#000" stroke-width="1.6"/>
<path d="M197.90 645.00 V643.40 M195.70 643.40 H200.10" fill="none" stroke="#000" stroke-width="1.6"/>
<rect x="181.25" y="648.35" width="8.20" height="28.95" fill="#fff" stroke="#000" stroke-width="1.7"/>
<rect x="194.00" y="645.20" width="7.90" height="32.10" fill="#000" stroke="#000" stroke-width="1.6"/>
<path d="M218.40 601.25 V591.00 M215.80 591.00 H221.00" fill="none" stroke="#000" stroke-width="1.6"/>
<path d="M230.80 635.75 V632.80 M228.60 632.80 H233.00" fill="none" stroke="#000" stroke-width="1.6"/>
<rect x="214.05" y="601.45" width="8.60" height="75.85" fill="#fff" stroke="#000" stroke-width="1.7"/>
<rect x="226.70" y="635.80" width="8.20" height="41.50" fill="#000" stroke="#000" stroke-width="1.6"/>
<path d="M218 587 H232.5" stroke="#000" stroke-width="1.5"/>
<text x="224.8" y="586.8" font-size="11" text-anchor="middle">*</text>
<text transform="translate(143.5,664.6) rotate(-90)" font-size="11.2" textLength="88" lengthAdjust="spacingAndGlyphs">% IL-2 secreting</text>
<text transform="translate(157.2,662.6) rotate(-90)" font-size="11.2" textLength="87" lengthAdjust="spacingAndGlyphs">allogeneic T cells</text>
<text transform="translate(195.0,685.8) rotate(-45)" font-size="11.6" text-anchor="end">medium</text>
<text transform="translate(228.0,686.0) rotate(-45)" font-size="11.6" text-anchor="end">allo</text>
<rect x="249.40" y="570.10" width="10.50" height="11.20" fill="#fff" stroke="#000" stroke-width="1.8"/>
<rect x="249.40" y="584.20" width="10.50" height="11.40" fill="#000" stroke="#000" stroke-width="1.8"/>
<text x="264.4" y="579.7" font-size="11.4" text-anchor="start" textLength="73.0" lengthAdjust="spacingAndGlyphs">TCD-BM + SC</text>
<text x="264.4" y="593.4" font-size="11.4" text-anchor="start" textLength="119.0" lengthAdjust="spacingAndGlyphs">TCD-BM + SC + MDSC</text>
</svg>
</body></html>
